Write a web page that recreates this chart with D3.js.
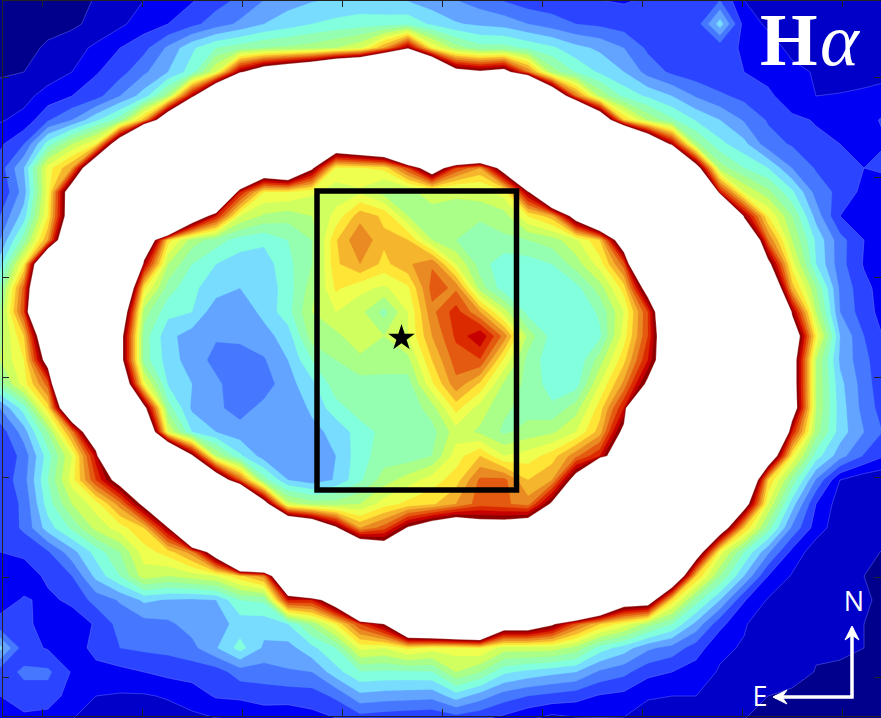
<!DOCTYPE html>
<html lang="en">
<head>
<meta charset="utf-8">
<script src="https://d3js.org/d3.v7.min.js"></script>
<style>
  html, body { margin: 0; padding: 0; background: #fff; }
  svg { display: block; }
  .axis path, .axis line { stroke: #222; stroke-width: 1; shape-rendering: crispEdges; }
</style>
</head>
<body>
<svg id="map" width="881" height="718"></svg>
<script>
// Flux level on a 24 px sampling grid. Above 19 is saturated (white)
const gridColumns = 38;
const fluxRows = [
  [.2,.2,.3,.5,1.1,1.5,2,2.4,2.9,3.6,4.2,5,5.6,5.9,6.1,6.3,6.2,5.9,5.4,5,4.5,3.9,3.4,3.3,3.2,3,2.9,3.1,3.1,3.3,4,2,1.5,1.4,1.4,1.4,1.4,1.4],
  [.2,.3,.6,.8,1.3,1.8,2.5,3,3.7,4.5,5.2,6,6.5,7,7.3,7.5,7.5,7.7,6.8,6.1,5.8,5.6,5,4.5,4,3.8,3.5,3.1,3.1,3.4,6.5,2.6,1.8,1.5,1.4,1.4,1.4,1.4],
  [.3,.6,1.2,1.6,2.2,3,3.7,5.2,6.8,8,8.5,9,9.2,9.5,10,10.8,14,18.5,12,9.5,8.4,8.4,7.8,7.2,6.3,5.8,5,3.8,3.3,3.1,3.3,2.9,2.5,1.7,1.4,1.3,1.3,1.3],
  [.9,1,1.5,2,2.9,3.6,4.8,6,7.5,11,18.5,22,24,26,30,32,38,42,31,20.5,19.5,20.5,15,9.5,7.9,6.8,6,4.6,3.8,3.4,3.1,3,2.5,2.3,1.9,1.3,1.4,1.6],
  [1.3,1.7,2.4,3,3.6,5,6.5,9.5,18,28,38,40,42,44,45,45,45,45,45,45,45,45,45,25,15,9.8,7.7,6.8,6,4.9,4.2,3.7,3.3,2.2,2,2.1,2.3,2.6],
  [1.9,2.3,3.9,5,6.8,8.5,13.5,24,36,45,45,45,45,45,45,45,45,45,45,45,45,45,45,45,37,24,13,9.8,8.2,6.9,6,4.9,3.9,3.3,2.9,2.7,2.7,3.2],
  [2.8,4,7.5,10,12,23,45,45,45,45,45,45,45,40,23.4,25,27,40,45,40,38,45,45,45,45,45,39,26,18,9.3,7.3,6.3,4.4,3.9,3.3,3,2.6,3],
  [3.5,6,11.5,14,25,40,45,45,45,45,35,24,26,19.5,11.7,11.9,12.3,16,22,16,14,21,45,45,45,45,45,45,45,21,9.5,8,7,5,3.9,3.3,3,3.2],
  [3,5.5,11.5,22,38,45,45,45,45,33,17,12,12,11.2,10.5,10.8,9.5,9.7,10.5,10.2,10.5,11.5,18.5,30,45,45,45,45,45,45,17,11,9.3,7.2,4.6,3.7,2.7,2.5],
  [4,6.5,12,22,40,45,45,45,23,17,11,9.8,9.4,10,11.3,13.6,12.8,10,9.5,9.5,9.2,9.5,12,13.5,21,29,45,45,45,45,45,18.5,12,9,5.6,3,2.4,2.2],
  [5,8.5,14,26,45,45,24.5,12.5,9.5,8.5,7.5,7.2,8,9,12.9,14.9,13.2,13,10,9,8.3,8.8,9,9.5,10.8,13,22.6,45,45,45,45,27,15,10,6.8,4.4,3,2.3],
  [6.5,12,28,45,45,45,18,10,8,7,6.5,6.5,7.7,9,12.8,14,12.7,13.8,14.9,11,8.5,7.3,7.5,8,9.5,11.5,15.5,33,45,45,45,45,20,11.5,7,4.4,2.9,2.2],
  [8,15.5,30,45,45,28,12.2,8.5,7.2,6.5,6,6.3,7.5,9.5,12.2,11.3,10.8,11.8,15.4,14.8,9.5,7.4,7.3,7.2,7.6,9.5,12.5,21,45,45,45,45,25.5,13.5,9,4.8,3.3,2.4],
  [9,16,35,45,45,23,9.5,7.3,7,5.3,5.3,6.3,7.6,10,11,10.3,8.6,11,14.7,16.5,14,10.5,7.6,7,7.1,8.2,11,16,26,45,45,45,45,18.5,10,5,3.4,2.5],
  [9.5,13,24,45,45,20.5,8.5,6.3,5.5,5.1,5.3,5.6,6.5,9.5,9.7,10.8,10,11,14,16.2,17.9,14.6,9.6,7.6,7,7.8,11.5,16,24,45,45,45,45,22.4,12,6,4,2.7],
  [10,12,20.8,45,45,20.5,8.5,6.5,5.5,4.7,4.4,4.9,6,8,9,9.7,9.7,9.7,13,15.5,15.9,11.8,8.6,7.4,7.1,9.5,12.7,17,23,45,45,45,45,21,10,5.8,4.3,3],
  [8.5,11.5,15.5,36,45,24,11.5,6.9,6,5.2,4.4,4.5,5.6,6.7,8.6,8.6,8.5,8.5,11.8,14.7,12.8,9.8,8.7,7.5,7.5,11,14.3,19.7,45,45,45,45,45,21,10,6.3,4.5,3],
  [5,7.5,12.5,25.5,45,45,20,8.5,5.8,5.2,4.6,5.3,5.2,6.2,7.6,8.5,8.4,8.3,9.5,12.4,10.5,9.2,8.6,8.2,9.5,12.5,17,40,45,45,45,45,45,21.4,10,6.5,4.6,3.3],
  [3.4,5.5,9,14.5,24.3,45,25.8,11,7,6,5.4,5.4,5.3,5.7,6.3,7.5,8.3,8.4,8.6,10.5,9.8,8.8,9.4,9.8,11,13.5,20,45,45,45,45,45,33,17,9.5,6.5,5,3.7],
  [3,4.4,7.5,11,17.5,40,45,30,19.5,10,7.2,5.5,5.2,5.3,6,7.6,8.5,8.4,9,11.5,13,11,11.5,12.5,14.7,17,23.7,45,45,45,45,45,23.2,12,7.5,5.4,3.9,2.9],
  [3.3,4.6,8,11.5,16,20.5,45,45,45,23,15.5,8.5,6,5.4,6.1,7.8,9.5,10.5,11.5,12.5,15.2,15.3,13,14,20.7,45,45,45,45,45,45,27.3,13,8.7,4.9,2,1.3,1.2],
  [3.3,4.2,7.5,10,11.5,14.5,19.9,45,45,45,36,21,10.5,9.5,9.5,10,11.5,12.3,12.8,14,15.5,15.2,14.5,19.5,45,45,45,45,45,45,45,21,11,6.5,3,1.5,1.3,1.2],
  [3.2,4.2,6.5,8.2,10.3,11.5,13,18.5,38,45,45,45,27.5,24.7,19.5,14,15.5,19.3,21.6,23,21,21,22.2,25,45,45,45,45,45,45,22,13,8.5,4.8,2.5,1.4,1.2,1.1],
  [3,3.2,3.9,5.6,7.4,9,11.5,12.5,14.5,21.7,45,45,45,45,30,25,22,30,45,45,45,45,45,45,45,45,45,45,45,22,11.5,8,5.2,2.7,1.4,1.2,1.1,.95],
  [2.5,2.5,3.2,4,6.3,8,10.5,10,10.5,11,12.7,14.5,28,45,45,45,45,45,45,45,45,45,45,45,45,45,45,45,25,13,9,6,3,1.9,1.2,1.1,1,.8],
  [2.6,3.1,2.8,3.2,4.4,5.1,6.2,5.9,5.8,6,8,8.2,17,17,22,45,45,45,45,45,45,45,45,45,40,30,22,21.7,12.5,8.5,6,3.1,1.9,1.3,1.2,1.15,1.05,.9],
  [3.3,3.3,2.5,2.5,3.1,4.4,4.6,4.8,5.4,5.5,6.4,6.4,7,9.3,12,16,19,28,30,32,33,22,22,19.5,15.5,13,11.5,9.5,8,5.7,3.3,2.1,1.4,1.3,1.2,1.1,1,.8],
  [6.3,3.4,2.9,2.5,3.3,4,4.2,4.3,4.7,5.9,7.4,5.8,5.6,6.7,8,11.3,11,12.2,11.5,11.5,12,10.5,10.5,10.5,9.6,7.5,6.5,5.2,4.6,3.5,2.2,1.9,1.3,1.2,1.05,1.1,1,.8],
  [3.5,4.2,4.2,2.9,2.7,2.7,3,3.3,3.4,3.5,4.5,4.5,4.9,5,6.6,7.9,7.8,7.8,7.9,10,9,7.2,6.7,6.3,6,4.8,4.3,3.3,3,2.5,1.9,1.4,1.3,1.2,.98,.9,.8,.6],
  [3,3.6,3.6,2.5,2,1.9,1.9,2.1,2.5,3.1,3.2,3.5,3.4,3.5,4.2,5.7,5.5,5.4,5.3,6.5,5.5,4.5,4,3.7,3.4,2.9,2.7,2.1,2,2,1.5,1.1,1,.9,.8,.7,.5,.4],
  [2.5,2.7,2.5,2,1.5,1.2,1.2,1.5,1.7,1.9,2,2.2,2.3,2.6,2.9,3.4,3.2,3.1,3,3.3,3,2.6,2,1.5,1.8,1.9,1.9,1.5,1.4,1.3,1.1,1,.8,.7,.6,.5,.4,.3]
];

const levels = d3.range(1, 20);
const bandColors = ["#0000c8", "#0000f4", "#2a44ff", "#4678ff", "#62a4ff", "#78dcff", "#82ffdc", "#94ffb0",
  "#aaff88", "#d0ff60", "#eeff50", "#ffe536", "#f5b62e", "#ea8a22", "#e45a10", "#dc2a00", "#c60000", "#8c0000", "#ffffff"];
const baseColor = "#00008c";

const xTicks = [-4, -3, -2, -1, 0, 1, 2, 3, 4];
const yTicks = [-3, -2, -1, 0, 1, 2, 3];
const slitX = [-1.25, 0.745];
const slitY = [-1.13, 1.86];
const starPos = [-0.405, 0.39];
const compassCorner = [4.1, -3.2];
const compassNorth = 0.71;
const compassEast = 0.79;

const width = 881, height = 718;
const svg = d3.select("#map");

// offset sky coordinates, 100 px per unit
const x = d3.scaleLinear().domain([-4.4, 4.39]).range([2, 881]);
const y = d3.scaleLinear().domain([-3.39, 3.77]).range([716, 0]);

// d3.contours puts sample i at i + 0.5
const gridX = d3.scaleLinear().domain([0.5, gridColumns - 0.5]).range([0, 888]);
const gridY = d3.scaleLinear().domain([0.5, fluxRows.length - 0.5]).range([0, 720]);
const gridPath = d3.geoPath(d3.geoTransform({
  point(px, py) { this.stream.point(gridX(px), gridY(py)); }
}));

const contours = d3.contours()
  .size([gridColumns, fluxRows.length])
  .thresholds(levels)(fluxRows.flat());

svg.append("rect").attr("width", width).attr("height", height).attr("fill", baseColor);

svg.append("g").selectAll("path")
  .data(contours)
  .join("path")
  .attr("d", gridPath)
  .attr("fill", (d, i) => bandColors[i])
  .attr("stroke", (d, i) => i < 3 ? "#7f8cff" : bandColors[i])
  .attr("stroke-width", (d, i) => i < 3 ? 0.4 : 0.3);

// slit box
svg.append("rect")
  .attr("x", x(slitX[0]))
  .attr("y", y(slitY[1]))
  .attr("width", x(slitX[1]) - x(slitX[0]))
  .attr("height", y(slitY[0]) - y(slitY[1]))
  .attr("fill", "none")
  .attr("stroke", "#000")
  .attr("stroke-width", 5.5);

svg.append("path")
  .attr("d", d3.symbol(d3.symbolStar, 220)())
  .attr("transform", `translate(${x(starPos[0])},${y(starPos[1])})`)
  .attr("fill", "#000");

// ticks point inward on all four sides, no labels
const tick = 7;
svg.append("g").attr("class", "axis").attr("transform", `translate(0,${y(-3.39)})`)
  .call(d3.axisTop(x).tickValues(xTicks).tickSize(tick).tickFormat(""));
svg.append("g").attr("class", "axis").attr("transform", `translate(0,${y(3.77)})`)
  .call(d3.axisBottom(x).tickValues(xTicks).tickSize(tick).tickFormat(""));
svg.append("g").attr("class", "axis").attr("transform", `translate(${x(-4.4)},0)`)
  .call(d3.axisRight(y).tickValues(yTicks).tickSize(tick).tickFormat(""));
svg.append("g").attr("class", "axis").attr("transform", `translate(${x(4.39)},0)`)
  .call(d3.axisLeft(y).tickValues(yTicks).tickSize(tick).tickFormat(""));

// H-alpha label
svg.append("text")
  .attr("x", 760)
  .attr("y", 65)
  .attr("fill", "#fff")
  .attr("font-family", "'Liberation Serif', serif")
  .attr("font-size", 74)
  .attr("font-weight", "bold")
  .text("H");
svg.append("text")
  .attr("x", 820)
  .attr("y", 65)
  .attr("fill", "#fff")
  .attr("font-family", "'Liberation Serif', serif")
  .attr("font-size", 74)
  .attr("font-style", "italic")
  .text("α");

// compass
const cx = x(compassCorner[0]), cy = y(compassCorner[1]);
const nTip = y(compassCorner[1] + compassNorth);
const eTip = x(compassCorner[0] - compassEast);
const compass = svg.append("g").attr("fill", "none").attr("stroke", "#fff")
  .attr("stroke-width", 3.5).attr("stroke-linejoin", "miter");
compass.append("path").attr("d", d3.line()([[cx, nTip + 2], [cx, cy], [eTip + 2, cy]]));
compass.append("path").attr("fill", "#fff").attr("stroke-width", 1)
  .attr("d", d3.line()([[cx, nTip], [cx + 7, nTip + 14], [cx, nTip + 9], [cx - 7, nTip + 14]]) + "Z");
compass.append("path").attr("fill", "#fff").attr("stroke-width", 1)
  .attr("d", d3.line()([[eTip, cy], [eTip + 14, cy - 7], [eTip + 9, cy], [eTip + 14, cy + 7]]) + "Z");

svg.append("text").attr("x", cx + 2).attr("y", nTip - 15)
  .attr("text-anchor", "middle").attr("fill", "#fff")
  .attr("font-family", "'Open Sans', sans-serif").attr("font-size", 27).text("N");
svg.append("text").attr("x", eTip - 13).attr("y", cy + 9)
  .attr("text-anchor", "middle").attr("fill", "#fff")
  .attr("font-family", "'Open Sans', sans-serif").attr("font-size", 27).text("E");
</script>
</body>
</html>
